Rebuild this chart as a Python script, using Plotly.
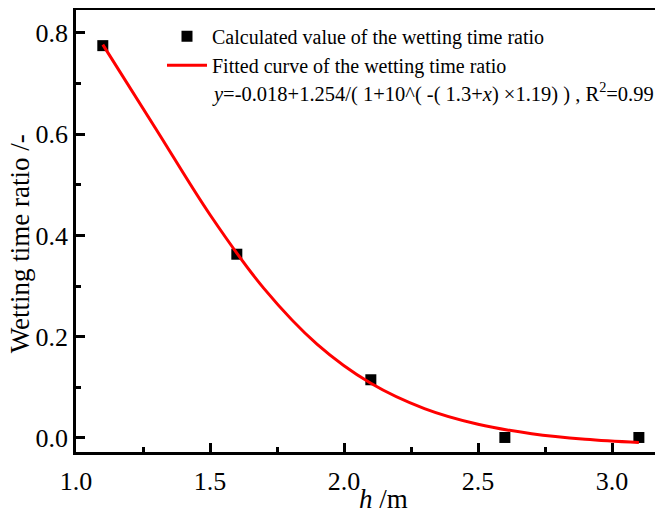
import plotly.graph_objects as go

# Measured points
h_points = [1.1, 1.6, 2.1, 2.6, 3.1]
ratio_points = [0.775, 0.363, 0.115, 0.001, 0.001]

# Fitted curve values
h_curve = [1.1, 1.3, 1.5, 1.7, 1.9, 2.1, 2.3, 2.5, 2.7, 2.9, 3.1]
ratio_curve = [0.777, 0.609, 0.441, 0.296, 0.185, 0.108, 0.058, 0.027, 0.0085, -0.0026, -0.009]

x_ticks = [1.0, 1.5, 2.0, 2.5, 3.0]
y_ticks = [0.0, 0.2, 0.4, 0.6, 0.8]

legend_names = ["Calculated value of the wetting time ratio",
                "Fitted curve of the wetting time ratio"]
equation_text = "<i>y</i>=-0.018+1.254/( 1+10^( -( 1.3+<i>x</i>) ×1.19) ) , R<sup>2</sup>=0.99"

FONT = "Liberation Serif"

fig = go.Figure()
fig.add_trace(go.Scatter(x=h_points, y=ratio_points, mode="markers",
                         name=legend_names[0],
                         marker=dict(symbol="square", size=11, color="black")))
fig.add_trace(go.Scatter(x=h_curve, y=ratio_curve, mode="lines",
                         name=legend_names[1], line=dict(color="#ff0000", width=3, shape="spline")))

fig.update_xaxes(range=[1.0, 3.19], tickvals=x_ticks, mirror=True,
                 showgrid=False, zeroline=False, showline=True, linecolor="black", linewidth=2.5,
                 ticks="inside", ticklen=9, tickwidth=2.5, tickcolor="black", tickformat=".1f",
                 ticklabelstandoff=4,
                 tickfont=dict(family=FONT, size=26, color="black"),
                 minor=dict(dtick=0.25, ticks="inside", ticklen=5, tickwidth=2.5, tickcolor="black"))
fig.update_yaxes(range=[-0.0277, 0.8454], tickvals=y_ticks, mirror=False,
                 showgrid=False, zeroline=False, showline=True, linecolor="black", linewidth=2.5,
                 ticks="inside", ticklen=9, tickwidth=2.5, tickcolor="black", tickformat=".1f",
                 tickfont=dict(family=FONT, size=26, color="black"),
                 minor=dict(dtick=0.1, ticks="inside", ticklen=5, tickwidth=2.5, tickcolor="black"))

# The page places the figure 8 px from the window's top-left corner
fig.update_layout(
    width=655, height=503,
    margin=dict(l=68, r=0, t=2, b=59, autoexpand=False),
    plot_bgcolor="white", paper_bgcolor="white",
    font=dict(family=FONT, color="black"),
    showlegend=True,
    legend=dict(x=0.1465, y=0.985, xanchor="left", yanchor="top",
                font=dict(family=FONT, size=20, color="black"),
                bgcolor="rgba(0,0,0,0)", borderwidth=0, itemwidth=40,
                tracegroupgap=0),
    annotations=[
        dict(text=equation_text, xref="paper", yref="paper", x=0.228, y=0.814,
             xanchor="left", yanchor="middle", showarrow=False,
             font=dict(family=FONT, size=20.5, color="black")),
        dict(text="Wetting time ratio /-", xref="paper", yref="paper", x=-0.0954, y=0.470,
             xanchor="center", yanchor="middle", textangle=-90, showarrow=False,
             font=dict(family=FONT, size=27, color="black")),
        dict(text="<i>h</i> /m", xref="paper", yref="paper", x=0.5247, y=-0.106,
             xanchor="center", yanchor="middle", showarrow=False,
             font=dict(family=FONT, size=27, color="black")),
    ],
)

fig.write_html("out.html")
